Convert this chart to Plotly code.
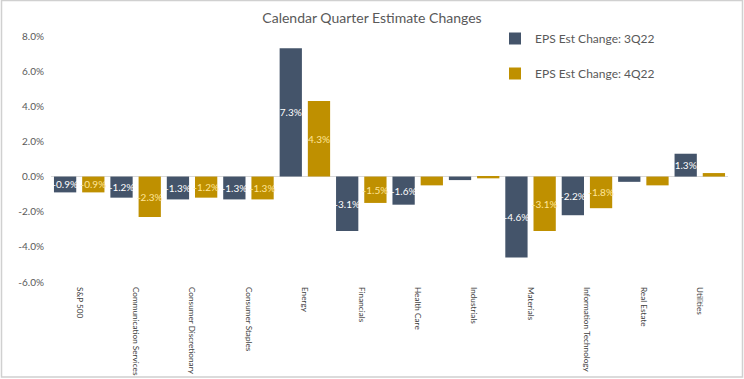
import plotly.graph_objects as go

categories = ["S&P 500", "Communication Services", "Consumer Discretionary", "Consumer Staples",
              "Energy", "Financials", "Health Care", "Industrials", "Materials",
              "Information Technology", "Real Estate", "Utilities"]
eps_3q22 = [-0.9, -1.2, -1.3, -1.3, 7.3, -3.1, -1.6, -0.2, -4.6, -2.2, -0.3, 1.3]
eps_4q22 = [-0.9, -2.3, -1.2, -1.3, 4.3, -1.5, -0.5, -0.1, -3.1, -1.8, -0.5, 0.2]
series_names = ["EPS Est Change: 3Q22", "EPS Est Change: 4Q22"]
y_ticks = [-6, -4, -2, 0, 2, 4, 6, 8]
y_tick_labels = ["-6.0%", "-4.0%", "-2.0%", "0.0%", "2.0%", "4.0%", "6.0%", "8.0%"]

FONT = "Lato, 'Open Sans', sans-serif"
W, H = 744, 379
ML, MR, MT, MB = 51, 16, 36, 97


def labels(vals):
    return [f"{v:.1f}%" if abs(v) >= 0.9 else "" for v in vals]


fig = go.Figure()
fig.add_trace(go.Bar(
    x=categories, y=eps_3q22, name=series_names[0], legendgroup="a",
    marker=dict(color="#44546A", line=dict(width=0)),
    text=labels(eps_3q22), textposition="inside", insidetextanchor="middle",
    textangle=0, constraintext="none",
    textfont=dict(color="#FFFFFF", size=10, family=FONT),
))
fig.add_trace(go.Bar(
    x=categories, y=eps_4q22, name=series_names[1], legendgroup="b",
    marker=dict(color="#BF9000", line=dict(width=0)),
    text=labels(eps_4q22), textposition="inside", insidetextanchor="middle",
    textangle=0, constraintext="none",
    textfont=dict(color="#FFE699", size=10, family=FONT),
))

pw = W - ML - MR
ph = H - MT - MB


def px_x(p):
    return (p - ML) / pw


def px_y(p):
    return (H - MB - p) / ph


fig.update_layout(
    width=W, height=H,
    margin=dict(l=ML, r=MR, t=MT, b=MB, autoexpand=False),
    paper_bgcolor="white", plot_bgcolor="white",
    barmode="group", bargap=0.0, bargroupgap=0.21,
    font=dict(family=FONT, color="#595959"),
    title=dict(text="Calendar Quarter Estimate Changes", x=0.5, xanchor="center",
               y=1 - 18 / H, yanchor="middle", automargin=False,
               font=dict(size=14, color="#595959", family=FONT)),
    legend=dict(x=px_x(495), y=px_y(24), xanchor="left", yanchor="top",
                font=dict(size=12, color="#595959", family=FONT),
                tracegroupgap=16, itemwidth=30, bgcolor="rgba(0,0,0,0)"),
    showlegend=True,
    xaxis=dict(showgrid=False, showline=False, ticks="", tickangle=90, automargin=False,
               tickfont=dict(size=8.2, color="#404040", family=FONT),
               ticklabelstandoff=4),
    yaxis=dict(range=[-6, 8], tickvals=y_ticks, ticktext=y_tick_labels, automargin=False,
               showgrid=False, zeroline=True, zerolinecolor="#D9D9D9", zerolinewidth=1,
               showline=False, ticks="", tickfont=dict(size=10, color="#595959", family=FONT),
               ticklabelstandoff=6),
)

fig.add_shape(type="rect", xref="paper", yref="paper",
              x0=px_x(1.5), x1=px_x(742.5), y0=px_y(377), y1=px_y(0.5),
              line=dict(color="#D0D0D0", width=1.5), fillcolor="rgba(0,0,0,0)", layer="above")

fig.write_html("out.html", config={"displayModeBar": False},
               post_script="document.body.style.margin='0';")
